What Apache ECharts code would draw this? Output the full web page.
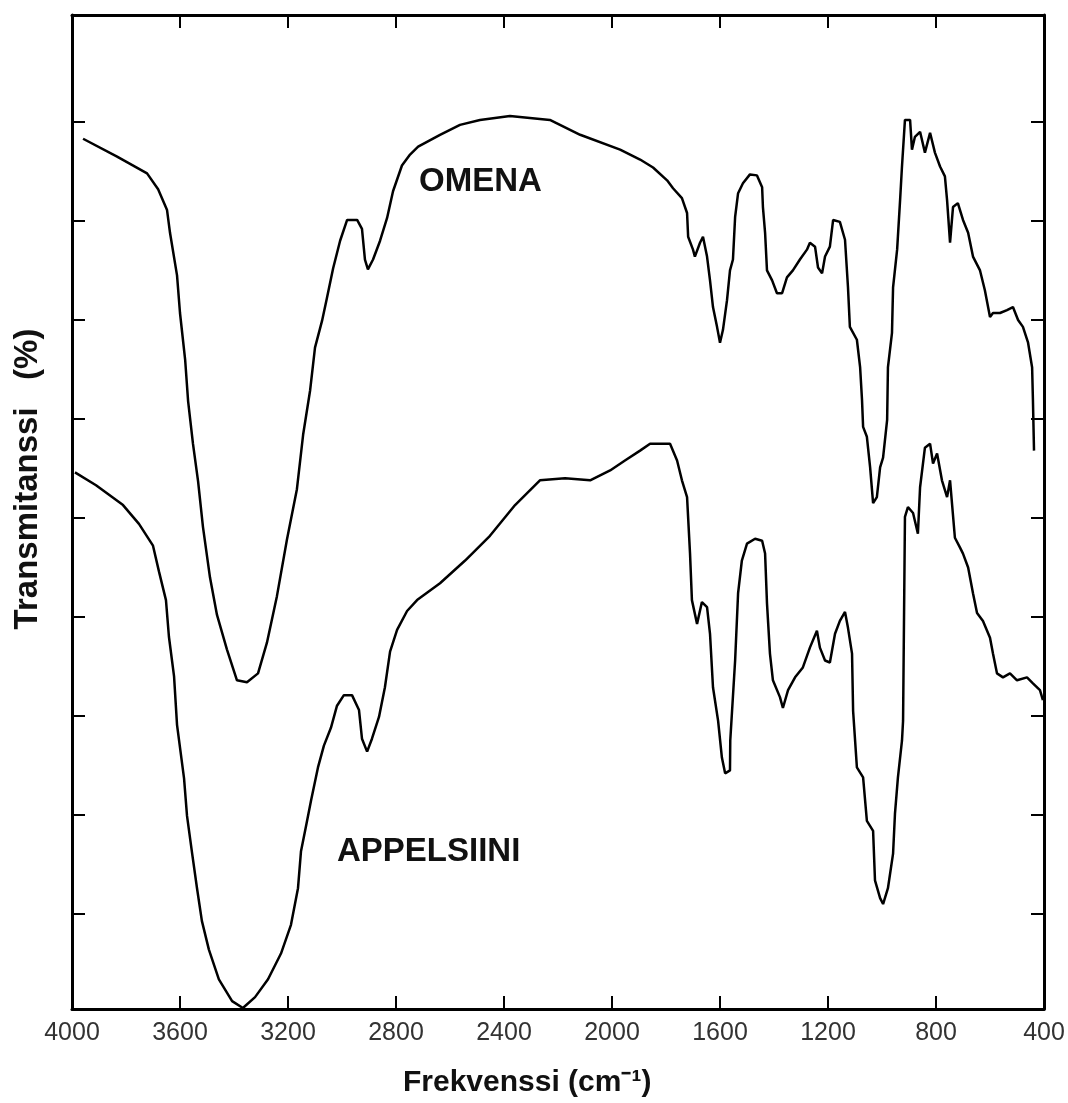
<!DOCTYPE html>
<html>
<head>
<meta charset="utf-8">
<script src="https://cdn.jsdelivr.net/npm/echarts@6/dist/echarts.min.js"></script>
<style>
  html, body { margin: 0; padding: 0; background: #fff; }
  #chart { width: 1068px; height: 1103px; }
</style>
</head>
<body>
<div id="chart"></div>
<script>
// IR spectra, wavenumber (cm-1) vs transmittance (relative %)
const omenaWn = [3959,3833,3722,3681,3648,3637,3611,3600,3581,3570,
  3552,3533,3515,3489,3463,3426,3389,3352,3311,3278,
  3241,3204,3167,3144,3118,3100,3074,3056,3033,3007,
  2981,2944,2926,2915,2904,2885,2859,2833,2811,2778,
  2748,2718,2637,2563,2489,2378,2230,2118,1970,1896,
  1848,1796,1774,1741,1722,1718,1700,1693,1674,1663,
  1648,1637,1626,1611,1600,1589,1574,1563,1552,1544,
  1533,1515,1489,1463,1444,1441,1433,1426,1407,1389,
  1370,1352,1330,1304,1278,1267,1248,1237,1222,1211,
  1193,1181,1156,1137,1126,1119,1093,1081,1074,1070,
  1056,1044,1033,1019,1007,996,981,978,963,959,
  944,933,926,915,896,889,878,859,841,822,
  804,785,767,759,748,737,719,700,681,663,
  637,619,600,589,563,537,515,496,478,459,
  444,441,437];
const omenaT = [88.3,86.5,84.8,83.2,81.1,78.8,74.5,70.7,66.0,61.8,
  57.5,53.7,49.1,44.0,40.2,36.7,33.6,33.4,34.3,37.4,
  42.1,47.8,52.9,58.4,62.9,67.2,69.9,72.2,75.2,78.0,
  80.1,80.1,79.2,76.1,75.1,76.1,78.0,80.3,83.0,85.6,
  86.7,87.5,88.7,89.7,90.2,90.6,90.2,88.7,87.2,86.2,
  85.4,84.1,83.3,82.3,80.8,78.4,77.1,76.4,77.8,78.4,
  76.4,74.0,71.3,69.3,67.7,69.0,72.0,75.0,76.1,80.4,
  82.8,83.8,84.7,84.6,83.4,81.4,78.8,75.0,74.0,72.7,
  72.7,74.3,75.0,76.1,77.1,77.8,77.4,75.3,74.7,76.4,
  77.4,80.1,79.9,78.1,73.3,69.3,68.0,65.2,61.9,59.2,
  58.2,55.1,51.5,52.1,55.1,56.1,59.9,65.2,68.7,73.3,
  77.1,82.1,85.5,90.2,90.2,87.2,88.5,89.0,86.9,88.9,
  86.9,85.5,84.5,82.1,77.8,81.4,81.8,80.1,78.8,76.4,
  75.0,73.0,70.3,70.7,70.7,71.0,71.3,70.0,69.3,67.7,
  65.2,61.9,56.8];

const appelWn = [3989,3911,3811,3752,3700,3678,3652,3641,3622,3611,
  3585,3574,3556,3537,3519,3493,3456,3407,3367,3322,
  3274,3226,3189,3163,3152,3133,3115,3089,3067,3041,
  3019,2993,2963,2937,2926,2907,2889,2863,2841,2822,
  2796,2759,2722,2637,2544,2452,2359,2267,2174,2081,
  2007,1952,1896,1859,1785,1759,1741,1722,1711,1704,
  1685,1667,1648,1637,1626,1607,1593,1581,1563,1562,
  1544,1533,1519,1500,1470,1444,1433,1426,1415,1404,
  1378,1367,1348,1322,1293,1267,1241,1230,1211,1193,
  1174,1156,1137,1126,1111,1107,1093,1070,1056,1033,
  1026,1007,996,978,959,952,941,926,922,915,
  904,885,867,859,841,822,811,796,778,759,
  748,730,711,700,681,663,648,626,600,589,
  574,552,526,500,463,441,415,404];
const appelT = [54.6,53.3,51.3,49.4,47.2,44.6,41.7,38.0,34.0,29.1,
  23.7,19.9,16.3,12.6,9.3,6.4,3.4,1.2,0.5,1.6,
  3.4,6.0,8.9,12.6,16.3,18.9,21.4,24.8,27.0,28.8,
  31.0,32.1,32.1,30.6,27.7,26.4,27.7,29.9,32.9,36.5,
  38.7,40.6,41.7,43.4,45.7,48.2,51.3,53.8,54.0,53.8,
  54.8,55.8,56.8,57.5,57.5,55.8,53.8,52.1,46.4,41.7,
  39.3,41.5,41.0,38.3,32.9,29.5,25.8,24.2,24.5,27.5,
  35.6,42.4,45.7,47.4,47.9,47.7,46.4,41.4,36.3,33.6,
  31.9,30.8,32.6,33.9,34.9,36.9,38.6,36.9,35.6,35.4,
  38.3,39.6,40.5,38.9,36.3,30.5,24.8,23.8,19.4,18.4,
  13.4,11.6,11.0,12.6,16.1,20.1,23.8,27.5,29.5,50.1,
  51.1,50.5,48.4,53.1,57.1,57.5,55.5,56.5,53.8,52.1,
  53.8,48.0,47.0,46.4,45.0,42.4,40.4,39.6,37.9,36.3,
  34.3,33.9,34.3,33.6,33.9,33.3,32.6,31.6];

const yTicks = [10, 20, 30, 40, 50, 60, 70, 80, 90];
const xMin = 400, xMax = 4000, xStep = 400;
const yMin = 0.4, yMax = 100.8;

const toPairs = (xs, ys) => xs.map((x, i) => [x, ys[i]]);

const FONT = 'Liberation Sans, Arial, sans-serif';
const axisLine = { show: true, lineStyle: { color: '#000', width: 3 } };
const tick = { show: true, inside: true, length: 13, lineStyle: { color: '#000', width: 2 } };

function xAx(pos, labels) {
  return {
    type: 'value', inverse: true, position: pos,
    min: xMin, max: xMax, interval: xStep,
    axisLine: axisLine, axisTick: tick, splitLine: { show: false },
    axisLabel: labels
      ? { show: true, color: '#333', fontSize: 25, fontFamily: FONT, margin: 12,
          showMinLabel: true, showMaxLabel: true, formatter: v => String(v) }
      : { show: false }
  };
}
function yAx(pos) {
  return {
    type: 'value', position: pos, min: yMin, max: yMax,
    axisLine: axisLine,
    axisTick: Object.assign({}, tick, { customValues: yTicks }),
    axisLabel: { show: false }, splitLine: { show: false }
  };
}

const chart = echarts.init(document.getElementById('chart'));
chart.setOption({
  animation: false,
  backgroundColor: '#fff',
  grid: { left: 72, right: 24, top: 15, bottom: 94 },
  xAxis: [xAx('bottom', true), xAx('top', false)],
  yAxis: [yAx('left'), yAx('right')],
  series: [
    { name: 'OMENA', type: 'line', showSymbol: false, symbol: 'none',
      lineStyle: { color: '#000', width: 2.5 }, data: toPairs(omenaWn, omenaT) },
    { name: 'APPELSIINI', type: 'line', showSymbol: false, symbol: 'none',
      lineStyle: { color: '#000', width: 2.5 }, data: toPairs(appelWn, appelT) }
  ],
  graphic: [
    { type: 'text', left: 419, top: 165,
      style: { text: 'OMENA', font: 'bold 33px ' + FONT, fill: '#111' } },
    { type: 'text', left: 337, top: 835,
      style: { text: 'APPELSIINI', font: 'bold 33px ' + FONT, fill: '#111' } },
    { type: 'text', left: 403, top: 1068,
      style: { text: 'Frekvenssi (cm⁻¹)', font: 'bold 30px ' + FONT, fill: '#111' } },
    { type: 'text', x: 28, y: 479, rotation: Math.PI / 2,
      style: { text: 'Transmitanssi   (%)', font: 'bold 33px ' + FONT, fill: '#111',
               textAlign: 'center', textVerticalAlign: 'middle' } }
  ]
});
</script>
</body>
</html>
